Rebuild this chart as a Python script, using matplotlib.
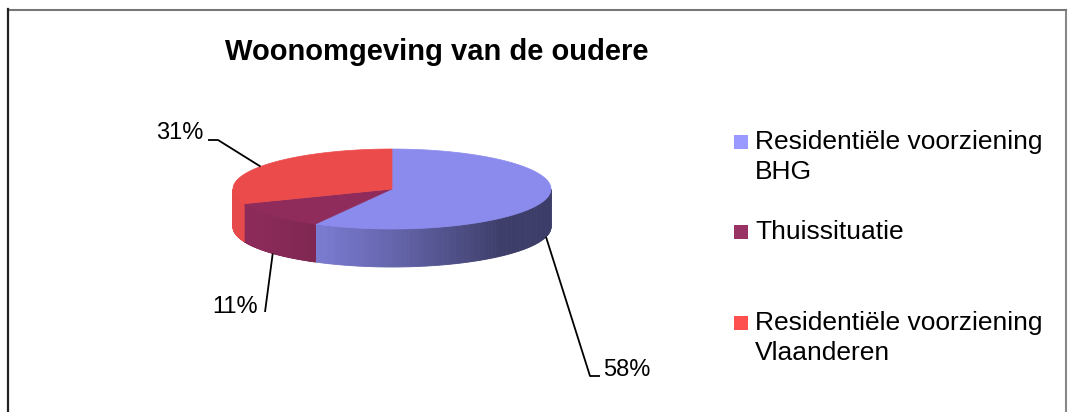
import numpy as np
import matplotlib
matplotlib.use("Agg")
import matplotlib.pyplot as plt
from matplotlib.patches import Polygon, Rectangle

plt.rcParams["font.family"] = ["Liberation Sans", "DejaVu Sans"]

# data
categories = ["Residentiële voorziening\nBHG", "Thuissituatie",
              "Residentiële voorziening\nVlaanderen"]
shares = [58, 11, 31]
top_colors = ["#8b8bee", "#8f2c5c", "#ec4b4b"]
legend_colors = ["#9999ff", "#993366", "#ff5050"]
title = "Woonomgeving van de oudere"

W, H = 1069, 412
fig = plt.figure(figsize=(W / 100, H / 100), dpi=100)
ax = fig.add_axes([0, 0, 1, 1])
ax.set_xlim(0, W)
ax.set_ylim(H, 0)
ax.axis("off")

# pie geometry (pixel space, y grows downward)
cx, cy, rx, ry, depth = 392, 189, 159, 40, 38


def pt(theta, dz=0.0):
    return cx + rx * np.cos(theta), cy - ry * np.sin(theta) + dz


def shade(theta):
    s = np.clip((np.cos(theta) + 0.9) / 1.6, 0, 1)
    return float(0.98 - 0.54 * s ** 1.3)


fracs = np.array(shares, float) / sum(shares)
edges = np.radians(90 - 360 * np.concatenate([[0], np.cumsum(fracs)]))

# side walls: front half only, in thin strips for the gradient
for i, col in enumerate(top_colors):
    t1, t0 = edges[i], edges[i + 1]
    ts = np.linspace(t0, t1, 200)
    ts = ts[np.sin(ts) <= 0.0005]
    if len(ts) < 2:
        continue
    rgb = np.array(matplotlib.colors.to_rgb(col))
    for a, b in zip(ts[:-1], ts[1:]):
        x0, y0 = pt(a)
        x1, y1 = pt(b)
        poly = [(x0, y0), (x1, y1), (x1, y1 + depth), (x0, y0 + depth)]
        c = np.clip(rgb * shade((a + b) / 2), 0, 1)
        ax.add_patch(Polygon(poly, closed=True, facecolor=c, edgecolor=c,
                             lw=0.6, antialiased=True))

# top faces
for i, col in enumerate(top_colors):
    ts = np.linspace(edges[i + 1], edges[i], 200)
    xs, ys = pt(ts)
    poly = [(cx, cy)] + list(zip(xs, ys))
    ax.add_patch(Polygon(poly, closed=True, facecolor=col, edgecolor=col,
                         lw=0.5))

# percentage labels with leader lines
label_pos = [(603, 370, "left"), (258, 307, "right"), (203, 133, "right")]
elbows = [((590, 376), (600, 376)), ((265, 312), None),
          ((218, 140), (208, 140))]
for i, v in enumerate(shares):
    mid = (edges[i] + edges[i + 1]) / 2
    front = np.sin(mid) < 0
    ax_, ay_ = pt(mid, depth if front else 0)
    (ex, ey), tail = elbows[i]
    xs, ys = [ax_, ex], [ay_, ey]
    if tail is not None:
        xs.append(tail[0])
        ys.append(tail[1])
    ax.plot(xs, ys, color="black", lw=1.3, solid_capstyle="butt")
    tx, ty, ha = label_pos[i]
    ax.text(tx, ty, f"{v}%", fontsize=17, ha=ha, va="center")

ax.text(437, 52, title, fontsize=21, fontweight="bold", ha="center",
        va="center")

# legend
leg_y = [142, 232, 323]
for i, lab in enumerate(categories):
    y = leg_y[i]
    ax.add_patch(Rectangle((734, y - 7), 14, 14, facecolor=legend_colors[i],
                           edgecolor="none"))
    ax.text(755, y - 12, lab, fontsize=19, ha="left", va="top",
            linespacing=1.32)

# chart border
ax.plot([1066, 1066], [H + 5, 9.5], color="#888888", lw=1.5)
ax.plot([8, 1066], [9.5, 9.5], color="#777777", lw=1.5)
ax.plot([8, 8], [H + 5, 9], color="#222222", lw=1.6)

fig.savefig("out.png", dpi=100)
